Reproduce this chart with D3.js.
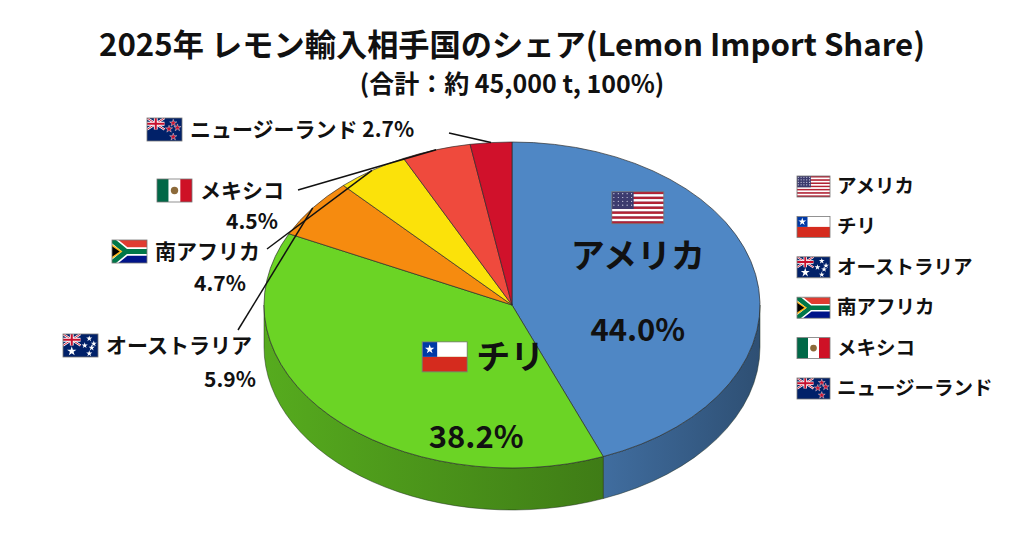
<!DOCTYPE html>
<html>
<head>
<meta charset="utf-8">
<script src="https://cdn.jsdelivr.net/npm/d3@7"></script>
<style>
  body { margin: 0; background: #fff; }
  svg { display: block; font-family: "Noto Sans CJK JP", "Noto Sans", sans-serif; }
</style>
</head>
<body>
<div class="vis-pie3d"></div>
<script>
// data
const countries = ['アメリカ', 'チリ', 'オーストラリア', '南アフリカ', 'メキシコ', 'ニュージーランド'];
const flagCodes = ['us', 'cl', 'au', 'za', 'mx', 'nz'];
const shares = [44.0, 38.2, 5.9, 4.7, 4.5, 2.7];
const sliceColors = ['#4f87c5', '#6bd425', '#f68b0f', '#fbe20a', '#ef4a3d', '#d0112b'];

const titleText = '2025年 レモン輸入相手国のシェア(Lemon Import Share)';
const subtitleText = '(合計：約 45,000 t, 100%)';

const width = 1024, height = 559;
const cx = 512, cy = 305, rx = 248, ry = 163, depth = 42;

const svg = d3.select('.vis-pie3d').append('svg')
  .attr('width', width).attr('height', height);
const defs = svg.append('defs');

const dataset = countries.map((name, i) => ({ name, code: flagCodes[i], value: shares[i], color: sliceColors[i] }));

const pie = d3.pie().value(d => d.value).sort(null).startAngle(0).endAngle(2 * Math.PI);
const arcs = pie(dataset);

// point on the tilted rim, angle clockwise from 12 o'clock
const pt = (t, k = 1, dy = 0) => [cx + k * rx * Math.sin(t), cy - k * ry * Math.cos(t) + dy];

// ---- flags ----
let flagId = 0;
function drawFlag(g, code, w, h) {
  const id = 'fl' + (flagId++);
  defs.append('clipPath').attr('id', id).append('rect').attr('width', w).attr('height', h);
  const f = g.append('g').attr('clip-path', 'url(#' + id + ')');
  const star = (x, y, s, fill, stroke) => f.append('path')
    .attr('d', d3.symbol().type(d3.symbolStar).size(s)())
    .attr('transform', 'translate(' + x + ',' + y + ')')
    .attr('fill', fill).attr('stroke', stroke || 'none').attr('stroke-width', 0.4);
  const unionJack = (uw, uh) => {
    f.append('rect').attr('width', uw).attr('height', uh).attr('fill', '#012169');
    f.append('path').attr('d', 'M0,0L' + uw + ',' + uh + 'M' + uw + ',0L0,' + uh)
      .attr('stroke', '#fff').attr('stroke-width', uh * 0.2);
    f.append('path').attr('d', 'M0,0L' + uw + ',' + uh + 'M' + uw + ',0L0,' + uh)
      .attr('stroke', '#c8102e').attr('stroke-width', uh * 0.08);
    f.append('path').attr('d', 'M' + uw / 2 + ',0V' + uh + 'M0,' + uh / 2 + 'H' + uw)
      .attr('stroke', '#fff').attr('stroke-width', uh * 0.33);
    f.append('path').attr('d', 'M' + uw / 2 + ',0V' + uh + 'M0,' + uh / 2 + 'H' + uw)
      .attr('stroke', '#c8102e').attr('stroke-width', uh * 0.18);
  };
  if (code === 'us') {
    d3.range(13).forEach(i => f.append('rect').attr('y', i * h / 13).attr('width', w).attr('height', h / 13 + 0.2)
      .attr('fill', i % 2 ? '#fff' : '#b22234'));
    f.append('rect').attr('width', w * 0.42).attr('height', h * 7 / 13).attr('fill', '#3c3b6e');
    d3.range(4).forEach(r => d3.range(5).forEach(c => f.append('circle')
      .attr('cx', w * 0.04 + c * w * 0.085).attr('cy', h * 0.06 + r * h * 0.12).attr('r', 0.6).attr('fill', '#dde')));
  } else if (code === 'cl') {
    f.append('rect').attr('width', w).attr('height', h / 2).attr('fill', '#fff');
    f.append('rect').attr('y', h / 2).attr('width', w).attr('height', h / 2).attr('fill', '#d52b1e');
    f.append('rect').attr('width', h / 2).attr('height', h / 2).attr('fill', '#0039a6');
    star(h / 4, h / 4, h * 0.9, '#fff');
  } else if (code === 'au' || code === 'nz') {
    f.append('rect').attr('width', w).attr('height', h).attr('fill', '#012169');
    unionJack(w / 2, h / 2);
    if (code === 'au') {
      star(w * 0.25, h * 0.75, h * 1.2, '#fff');
      [[0.75, 0.2], [0.62, 0.5], [0.88, 0.42], [0.75, 0.85], [0.82, 0.6]].forEach(p => star(w * p[0], h * p[1], h * 0.5, '#fff'));
    } else {
      [[0.75, 0.22], [0.63, 0.48], [0.87, 0.42], [0.75, 0.82]].forEach(p => star(w * p[0], h * p[1], h * 0.7, '#c8102e', '#fff'));
    }
  } else if (code === 'za') {
    f.append('rect').attr('width', w).attr('height', h / 2).attr('fill', '#e03c31');
    f.append('rect').attr('y', h / 2).attr('width', w).attr('height', h / 2).attr('fill', '#001489');
    const y = 'M0,0L' + w * 0.4 + ',' + h / 2 + 'L' + w + ',' + h / 2 + 'M0,' + h + 'L' + w * 0.4 + ',' + h / 2;
    f.append('path').attr('d', y).attr('fill', 'none').attr('stroke', '#fff').attr('stroke-width', h * 0.36);
    f.append('path').attr('d', y).attr('fill', 'none').attr('stroke', '#007749').attr('stroke-width', h * 0.22);
    f.append('path').attr('d', 'M0,' + h * 0.18 + 'L' + w * 0.3 + ',' + h / 2 + 'L0,' + h * 0.82 + 'Z').attr('fill', '#ffb81c');
    f.append('path').attr('d', 'M0,' + h * 0.27 + 'L' + w * 0.22 + ',' + h / 2 + 'L0,' + h * 0.73 + 'Z').attr('fill', '#000');
  } else if (code === 'mx') {
    f.append('rect').attr('width', w / 3).attr('height', h).attr('fill', '#006847');
    f.append('rect').attr('x', w / 3).attr('width', w / 3).attr('height', h).attr('fill', '#fff');
    f.append('rect').attr('x', 2 * w / 3).attr('width', w / 3 + 0.5).attr('height', h).attr('fill', '#ce1126');
    f.append('circle').attr('cx', w / 2).attr('cy', h / 2).attr('r', h * 0.16).attr('fill', '#8c6a3a');
  }
  g.append('rect').attr('width', w).attr('height', h).attr('fill', 'none').attr('stroke', '#777').attr('stroke-width', 0.8);
}

// ---- title ----
svg.append('text').attr('x', 512).attr('y', 56).attr('text-anchor', 'middle')
  .attr('font-size', 31).attr('font-weight', 700).attr('fill', '#111')
  .attr('textLength', 826).attr('lengthAdjust', 'spacingAndGlyphs')
  .text(titleText);
svg.append('text').attr('x', 512).attr('y', 93).attr('text-anchor', 'middle')
  .attr('font-size', 25).attr('font-weight', 700).attr('fill', '#111')
  .text(subtitleText);

// ---- 3D pie: front walls ----
const front = arcs.map(a => {
  const s0 = Math.max(a.startAngle, Math.PI / 2), s1 = Math.min(a.endAngle, 3 * Math.PI / 2);
  return s1 > s0 ? { a, s0, s1 } : null;
}).filter(Boolean);

front.forEach((d, i) => {
  const gid = 'side' + i;
  const c = d3.color(d.a.data.color);
  const gr = defs.append('linearGradient').attr('id', gid).attr('x1', 0).attr('x2', 1).attr('y1', 0).attr('y2', 0);
  gr.append('stop').attr('offset', '0%').attr('stop-color', c.darker(0.6));
  gr.append('stop').attr('offset', '100%').attr('stop-color', c.darker(1.5));
});

svg.append('g').attr('class', 'sides')
  .selectAll('path').data(front).enter().append('path')
  .attr('d', d => {
    const p0 = pt(d.s0), p1 = pt(d.s1), q1 = pt(d.s1, 1, depth), q0 = pt(d.s0, 1, depth);
    return 'M' + p0 + 'A' + rx + ',' + ry + ' 0 0 1 ' + p1 + 'L' + q1 +
      'A' + rx + ',' + ry + ' 0 0 0 ' + q0 + 'Z';
  })
  .attr('fill', (d, i) => 'url(#side' + i + ')')
  .attr('stroke', '#1c2a1c').attr('stroke-opacity', 0.6).attr('stroke-width', 0.8);

// ---- 3D pie: top faces ----
svg.append('g').attr('class', 'tops')
  .selectAll('path').data(arcs).enter().append('path')
  .attr('d', d => {
    const p0 = pt(d.startAngle), p1 = pt(d.endAngle);
    const large = d.endAngle - d.startAngle > Math.PI ? 1 : 0;
    return 'M' + cx + ',' + cy + 'L' + p0 + 'A' + rx + ',' + ry + ' 0 ' + large + ' 1 ' + p1 + 'Z';
  })
  .attr('fill', d => d.data.color)
  .attr('stroke', '#2a2a2a').attr('stroke-opacity', 0.75).attr('stroke-width', 0.9)
  .attr('stroke-linejoin', 'round');

// ---- labels inside the two big slices ----
const mid = d => (d.startAngle + d.endAngle) / 2;
const usArc = arcs[0], clArc = arcs[1];
const fmt = v => v.toFixed(1) + '%';

const ua = pt(mid(usArc), 0.5);
const gUs = svg.append('g');
drawFlag(gUs.append('g').attr('transform', 'translate(' + (ua[0] - 22) + ',' + (ua[1] - 98) + ')'), 'us', 52, 32);
gUs.append('text').attr('x', ua[0] + 4).attr('y', ua[1] - 22).attr('text-anchor', 'middle')
  .attr('font-size', 34).attr('font-weight', 700).attr('fill', '#111').text(usArc.data.name);
gUs.append('text').attr('x', ua[0] + 4).attr('y', ua[1] + 51).attr('text-anchor', 'middle')
  .attr('font-size', 31).attr('font-weight', 700).attr('fill', '#111').text(fmt(usArc.data.value));

const ca = pt(mid(clArc), 0.45);
const gCl = svg.append('g');
drawFlag(gCl.append('g').attr('transform', 'translate(' + (ca[0] - 8) + ',' + (ca[1] - 13) + ')'), 'cl', 45, 30);
gCl.append('text').attr('x', ca[0] + 46).attr('y', ca[1] + 14)
  .attr('font-size', 34).attr('font-weight', 700).attr('fill', '#111').text(clArc.data.name);
gCl.append('text').attr('x', ca[0] + 46).attr('y', ca[1] + 93).attr('text-anchor', 'middle')
  .attr('font-size', 31).attr('font-weight', 700).attr('fill', '#111').text(fmt(clArc.data.value));

// ---- outside labels for the small slices (label block positions) ----
const outside = [
  { i: 2, fx: 63, y: 345, px: 230, py: 387, lx: 238, ly: 330 },
  { i: 3, fx: 112, y: 251, px: 220, py: 291, lx: 267, ly: 249 },
  { i: 4, fx: 157, y: 190, px: 252, py: 229, lx: 298, ly: 190 },
  { i: 5, fx: 147, y: 129, px: null, py: null, lx: 449, ly: 133 }
];
const gOut = svg.append('g');
outside.forEach(o => {
  const a = arcs[o.i];
  const end = pt(mid(a), 1.0);
  gOut.append('line').attr('x1', o.lx).attr('y1', o.ly).attr('x2', end[0]).attr('y2', end[1])
    .attr('stroke', '#111').attr('stroke-width', 1.5);
  drawFlag(gOut.append('g').attr('transform', 'translate(' + o.fx + ',' + (o.y - 11) + ')'), a.data.code, 35, 23);
  gOut.append('text').attr('x', o.fx + 43).attr('y', o.y + 8)
    .attr('font-size', 21).attr('font-weight', 700).attr('fill', '#111')
    .text(o.px === null ? a.data.name + ' ' + fmt(a.data.value) : a.data.name);
  if (o.px !== null) {
    gOut.append('text').attr('x', o.px).attr('y', o.py).attr('text-anchor', 'middle')
      .attr('font-size', 21).attr('font-weight', 700).attr('fill', '#111').text(fmt(a.data.value));
  }
});

// ---- legend ----
const legend = svg.append('g').attr('transform', 'translate(797,186)');
const legendG = legend.selectAll('.legend').data(dataset).enter().append('g')
  .attr('class', 'legend')
  .attr('transform', (d, i) => 'translate(0,' + (i * 40.4) + ')');
legendG.each(function (d) {
  drawFlag(d3.select(this).append('g').attr('transform', 'translate(0,-10)'), d.code, 33, 21);
});
legendG.append('text').attr('x', 40).attr('y', 7)
  .attr('font-size', 19.5).attr('font-weight', 700).attr('fill', '#111')
  .text(d => d.name);
</script>
</body>
</html>
